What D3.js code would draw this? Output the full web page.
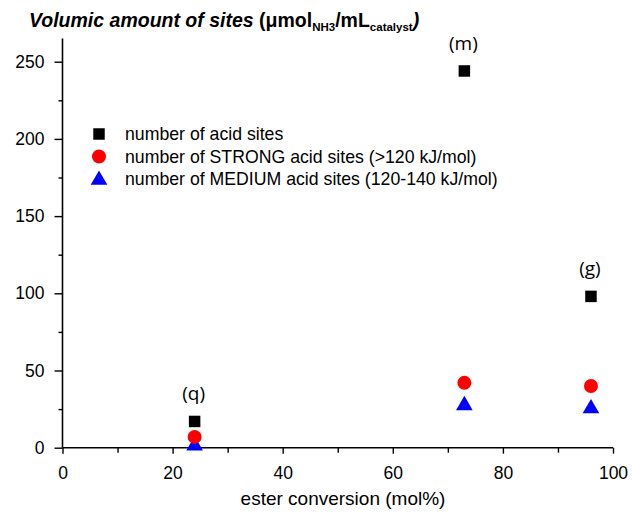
<!DOCTYPE html>
<html><head><meta charset="utf-8">
<script src="https://cdn.jsdelivr.net/npm/d3@7"></script>
<style>body{margin:0;background:#fff}svg{display:block}</style>
</head><body>
<svg id="c" width="632" height="515"></svg>
<script>
const samples = ["(q)", "(m)", "(g)"];
const conversion = [24, 73, 96];
const acidSites = [17, 244, 98];
const strongSites = [7, 42, 40];
const mediumSites = [2, 28, 26];
const xTicks = [0, 20, 40, 60, 80, 100];
const yTicks = [0, 50, 100, 150, 200, 250];
const legendLabels = ["number of acid sites", "number of STRONG acid sites (>120 kJ/mol)", "number of MEDIUM acid sites (120-140 kJ/mol)"];

const svg = d3.select("#c");
const x = d3.scaleLinear().domain([0, 100]).range([62.5, 613]);
const y = d3.scaleLinear().domain([0, 250]).range([447.7, 61.7]);
const yTop = 265;

const ax = svg.append("g").attr("font-family", "Liberation Sans, Arial, sans-serif");
ax.append("line").attr("x1", x(0)).attr("x2", x(0)).attr("y1", y(yTop)).attr("y2", y(0)).attr("stroke", "#000").attr("stroke-width", 1.6);
ax.append("line").attr("x1", x(0)).attr("x2", x(100)).attr("y1", y(0)).attr("y2", y(0)).attr("stroke", "#000").attr("stroke-width", 1.6);

const xAxis = d3.axisBottom(x).tickValues(xTicks).tickSize(6).tickPadding(13);
ax.append("g").attr("transform", `translate(0,${y(0)})`).call(xAxis);
const xMinor = d3.axisBottom(x).tickValues([10, 30, 50, 70, 90]).tickSize(5).tickFormat("");
ax.append("g").attr("transform", `translate(0,${y(0)})`).call(xMinor);

const yAxis = d3.axisLeft(y).tickValues(yTicks).tickSize(8).tickPadding(10);
ax.append("g").attr("transform", `translate(${x(0)},0)`).call(yAxis);
const yMinor = d3.axisLeft(y).tickValues([25, 75, 125, 175, 225]).tickSize(4).tickFormat("");
ax.append("g").attr("transform", `translate(${x(0)},0)`).call(yMinor);

ax.selectAll(".domain").remove();
ax.selectAll(".tick line").attr("stroke", "#000").attr("stroke-width", 1.4);
ax.selectAll(".tick text").attr("font-size", 17.5).attr("fill", "#000").attr("font-family", "Liberation Sans, Arial, sans-serif");

svg.append("text").attr("x", 343).attr("y", 505).attr("text-anchor", "middle")
  .attr("font-family", "Liberation Sans, Arial, sans-serif").attr("font-size", 19).text("ester conversion (mol%)");

const t = svg.append("text").attr("x", 29).attr("y", 27)
  .attr("font-family", "Liberation Sans, Arial, sans-serif").attr("font-size", 19.5).attr("font-weight", "bold");
t.append("tspan").attr("font-style", "italic").text("Volumic amount of sites ");
t.append("tspan").text("(μmol");
t.append("tspan").attr("font-size", 11.5).attr("dy", 4).text("NH3");
t.append("tspan").attr("dy", -4).text("/mL");
t.append("tspan").attr("font-size", 11.5).attr("dy", 4).text("catalyst");
t.append("tspan").attr("dy", -4).attr("font-style", "italic").text(")");

const sq = d3.symbol().type(d3.symbolSquare).size(132);
const ci = d3.symbol().type(d3.symbolCircle).size(154);
const tr = d3.symbol().type(d3.symbolTriangle).size(120);

const marks = svg.append("g");
marks.selectAll(".sq").data(conversion).join("path").attr("d", sq)
  .attr("transform", (d, i) => `translate(${x(d)},${y(acidSites[i])})`).attr("fill", "#000");
marks.selectAll(".tr").data(conversion).join("path").attr("d", tr)
  .attr("transform", (d, i) => `translate(${x(d)},${y(mediumSites[i]) + 1})`).attr("fill", "#0000ff");
marks.selectAll(".ci").data(conversion).join("path").attr("d", ci)
  .attr("transform", (d, i) => `translate(${x(d)},${y(strongSites[i])})`).attr("fill", "#ff0000");

svg.append("g").selectAll("text").data(samples).join("text")
  .attr("x", (d, i) => x(conversion[i]) - 1)
  .attr("y", (d, i) => y(acidSites[i]) - 21)
  .attr("text-anchor", "middle").attr("font-family", "Open Sans, sans-serif").attr("font-size", 19)
  .text(d => d);

const lg = svg.append("g").attr("font-family", "Liberation Sans, Arial, sans-serif").attr("font-size", 17.7);
const syms = [[sq, "#000", 0], [ci, "#ff0000", 0], [tr, "#0000ff", 1]];
legendLabels.forEach((l, i) => {
  const yy = 134 + i * 22.5;
  lg.append("path").attr("d", syms[i][0]).attr("fill", syms[i][1]).attr("transform", `translate(99,${yy + syms[i][2]})`);
  lg.append("text").attr("x", 125).attr("y", yy + 6).text(l);
});
</script>
</body></html>
